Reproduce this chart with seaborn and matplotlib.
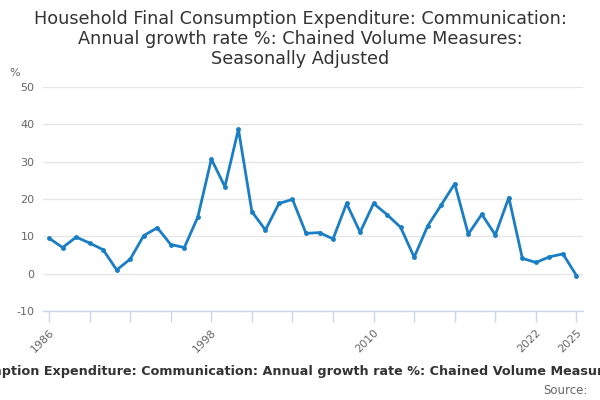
import matplotlib
matplotlib.use("Agg")
import matplotlib.pyplot as plt
import seaborn as sns
import pandas as pd

years = list(range(1986, 2026))
growth = [9.5, 7.0, 9.8, 8.2, 6.4, 1.0, 3.9, 10.2, 12.3, 7.8,
          7.0, 15.2, 30.7, 23.3, 38.7, 16.6, 11.7, 18.8, 19.9, 10.8,
          11.0, 9.3, 18.8, 11.1, 18.8, 15.8, 12.4, 4.4, 12.8, 18.4,
          24.1, 10.6, 15.9, 10.4, 20.4, 4.1, 3.0, 4.5, 5.3, -0.5]
x_ticks = list(range(1986, 2026, 3))
x_labels = {1986: "1986", 1998: "1998", 2010: "2010", 2022: "2022", 2025: "2025"}
y_ticks = [-10, 0, 10, 20, 30, 40, 50]

title = ("Household Final Consumption Expenditure: Communication:\n"
         "Annual growth rate %: Chained Volume Measures:\n"
         "Seasonally Adjusted")
footer = ("Household Final Consumption Expenditure: Communication: Annual growth rate %: "
          "Chained Volume Measures: Seasonally Adjusted")

df = pd.DataFrame({"year": years, "growth": growth})

sns.set_theme(style="white")
plt.rcParams["font.family"] = ["DejaVu Sans"]

fig = plt.figure(figsize=(6, 4), dpi=100)
ax = fig.add_axes([0.0717, 0.2225, 0.9003, 0.56])

sns.lineplot(data=df, x="year", y="growth", ax=ax, color="#1a7ec4",
             linewidth=2, marker="o", markersize=3.5, markeredgewidth=0)

ax.set_xlim(1985.55, 2025.5)
ax.set_ylim(-10, 50)
ax.set_yticks(y_ticks)
ax.set_yticklabels([str(v) for v in y_ticks])
ax.set_xticks(x_ticks)
ax.set_xticklabels([x_labels.get(t, "") for t in x_ticks], rotation=45,
                   ha="right", rotation_mode="anchor")
ax.tick_params(axis="x", bottom=True, direction="out", length=8, width=1,
               color="#ccd6eb", labelcolor="#666666", labelsize=8, pad=4)
ax.tick_params(axis="y", left=False, length=0, labelsize=8, labelcolor="#666666", pad=6)
ax.grid(axis="y", color="#e6e6e6", linewidth=1)
ax.set_axisbelow(True)
for s in ["top", "right", "left"]:
    ax.spines[s].set_visible(False)
ax.spines["bottom"].set_color("#ccd6eb")
ax.spines["bottom"].set_linewidth(1)
ax.set_xlabel("")
ax.set_ylabel("")

fig.text(0.5, 0.975, title, ha="center", va="top", fontsize=12.7, color="#333333",
         linespacing=1.15)
fig.text(0.025, 0.805, "%", ha="center", va="bottom", fontsize=8, color="#666666")
fig.text(0.5, 0.07, footer, ha="center", va="center", fontsize=9.2,
         fontweight="bold", color="#333333")
fig.text(0.98, 0.025, "Source:", ha="right", va="center", fontsize=8.5, color="#666666")

fig.savefig("out.png", dpi=100)
